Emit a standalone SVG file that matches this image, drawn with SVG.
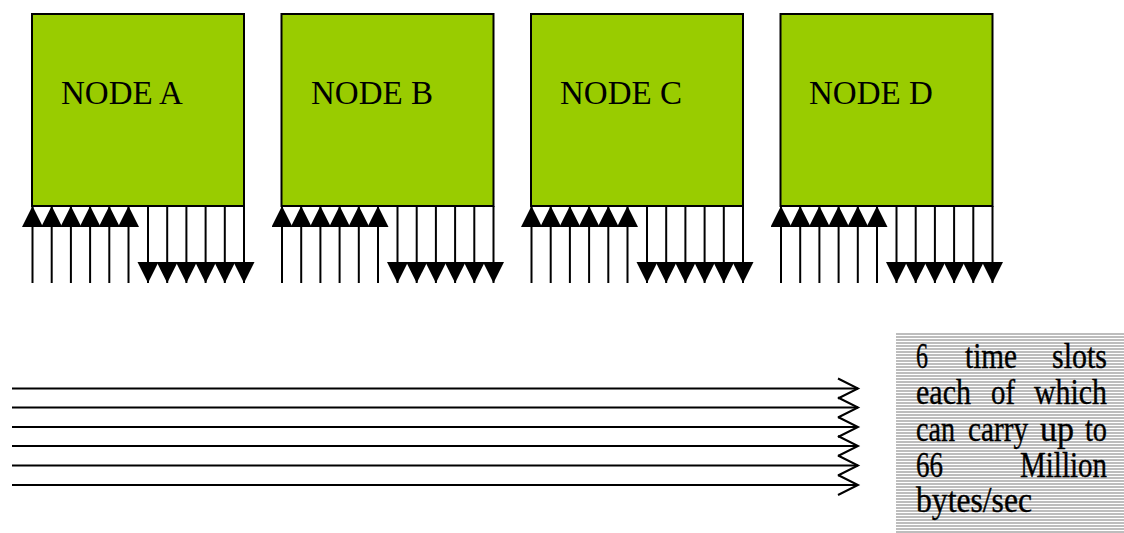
<svg xmlns="http://www.w3.org/2000/svg" xmlns:xlink="http://www.w3.org/1999/xlink" width="1124" height="533" viewBox="0 0 1124 533">
  <style>
    .node { fill: #99cc00; stroke: #000; stroke-width: 2; }
    .label { font-family: "Liberation Serif", "Times New Roman", serif; font-size: 33px; fill: #000; }
    .note { font-family: "Liberation Serif", "Times New Roman", serif; font-size: 35px; fill: #000; stroke: #000; stroke-width: 0.35; }
    .wire { stroke: #000; stroke-width: 2; fill: none; }
    .up { marker-end: url(#solidHead); }
    .down { marker-end: url(#solidHead); }
    .slot { marker-end: url(#openHead); }
  </style>
  <defs>
    <marker id="solidHead" markerUnits="userSpaceOnUse" markerWidth="22" markerHeight="22" refX="21" refY="10.5" orient="auto">
      <path d="M0,0 L21,10.5 L0,21 Z" fill="#000"/>
    </marker>
    <marker id="openHead" markerUnits="userSpaceOnUse" markerWidth="24" markerHeight="24" refX="21" refY="11" orient="auto" overflow="visible">
      <path d="M1,1 L21,11 L1,21" fill="none" stroke="#000" stroke-width="2"/>
    </marker>
    <pattern id="hatch" patternUnits="userSpaceOnUse" width="4" height="3">
      <rect width="4" height="3" fill="#bdbdbd"/>
      <rect y="2" width="4" height="1" fill="#ffffff"/>
    </pattern>
    <!-- one node's bus: six inbound (up) and six outbound (down) lines -->
    <g id="bus">
      <line class="wire up" x1="0.5" y1="283" x2="0.5" y2="206"/>
      <line class="wire up" x1="19.7" y1="283" x2="19.7" y2="206"/>
      <line class="wire up" x1="38.9" y1="283" x2="38.9" y2="206"/>
      <line class="wire up" x1="58.1" y1="283" x2="58.1" y2="206"/>
      <line class="wire up" x1="77.3" y1="283" x2="77.3" y2="206"/>
      <line class="wire up" x1="96.5" y1="283" x2="96.5" y2="206"/>
      <line class="wire down" x1="116" y1="206" x2="116" y2="283"/>
      <line class="wire down" x1="135.2" y1="206" x2="135.2" y2="283"/>
      <line class="wire down" x1="154.4" y1="206" x2="154.4" y2="283"/>
      <line class="wire down" x1="173.6" y1="206" x2="173.6" y2="283"/>
      <line class="wire down" x1="192.8" y1="206" x2="192.8" y2="283"/>
      <line class="wire down" x1="212" y1="206" x2="212" y2="283"/>
    </g>
  </defs>

  <rect width="1124" height="533" fill="#ffffff"/>

  <g id="node-a">
    <rect class="node" x="32" y="14" width="212" height="192"/>
    <text class="label" x="61" y="104">NODE A</text>
  </g>
  <g id="node-b">
    <rect class="node" x="281.5" y="14" width="212" height="192"/>
    <text class="label" x="311" y="104">NODE B</text>
  </g>
  <g id="node-c">
    <rect class="node" x="531" y="14" width="212" height="192"/>
    <text class="label" x="560" y="104">NODE C</text>
  </g>
  <g id="node-d">
    <rect class="node" x="780.5" y="14" width="212" height="192"/>
    <text class="label" x="809" y="104">NODE D</text>
  </g>

  <g id="connectors">
    <use xlink:href="#bus" href="#bus" x="32" y="0"/>
    <use xlink:href="#bus" href="#bus" x="281.5" y="0"/>
    <use xlink:href="#bus" href="#bus" x="531" y="0"/>
    <use xlink:href="#bus" href="#bus" x="780.5" y="0"/>
    <!-- six time slots on the shared backplane -->
    <line class="wire slot" x1="12" y1="388.5" x2="858" y2="388.5"/>
    <line class="wire slot" x1="12" y1="407.5" x2="858" y2="407.5"/>
    <line class="wire slot" x1="12" y1="427" x2="858" y2="427"/>
    <line class="wire slot" x1="12" y1="446" x2="858" y2="446"/>
    <line class="wire slot" x1="12" y1="465.5" x2="858" y2="465.5"/>
    <line class="wire slot" x1="12" y1="485" x2="858" y2="485"/>
  </g>

  <!-- justified caption: each word placed and sized on its own -->
  <g id="slot-note">
    <rect x="896" y="332" width="228" height="201" fill="url(#hatch)"/>
    <text class="note" x="916" y="368" textLength="12" lengthAdjust="spacingAndGlyphs">6</text>
    <text class="note" x="965" y="368" textLength="52" lengthAdjust="spacingAndGlyphs">time</text>
    <text class="note" x="1052" y="368" textLength="55" lengthAdjust="spacingAndGlyphs">slots</text>
    <text class="note" x="916" y="404" textLength="55" lengthAdjust="spacingAndGlyphs">each</text>
    <text class="note" x="991" y="404" textLength="24" lengthAdjust="spacingAndGlyphs">of</text>
    <text class="note" x="1034" y="404" textLength="73" lengthAdjust="spacingAndGlyphs">which</text>
    <text class="note" x="916" y="440.5" textLength="39" lengthAdjust="spacingAndGlyphs">can</text>
    <text class="note" x="968" y="440.5" textLength="60" lengthAdjust="spacingAndGlyphs">carry</text>
    <text class="note" x="1040" y="440.5" textLength="34" lengthAdjust="spacingAndGlyphs">up</text>
    <text class="note" x="1085" y="440.5" textLength="22" lengthAdjust="spacingAndGlyphs">to</text>
    <text class="note" x="916" y="476.5" textLength="27" lengthAdjust="spacingAndGlyphs">66</text>
    <text class="note" x="1020" y="476.5" textLength="87" lengthAdjust="spacingAndGlyphs">Million</text>
    <text class="note" x="916" y="512" textLength="116" lengthAdjust="spacingAndGlyphs">bytes/sec</text>
  </g>
</svg>
